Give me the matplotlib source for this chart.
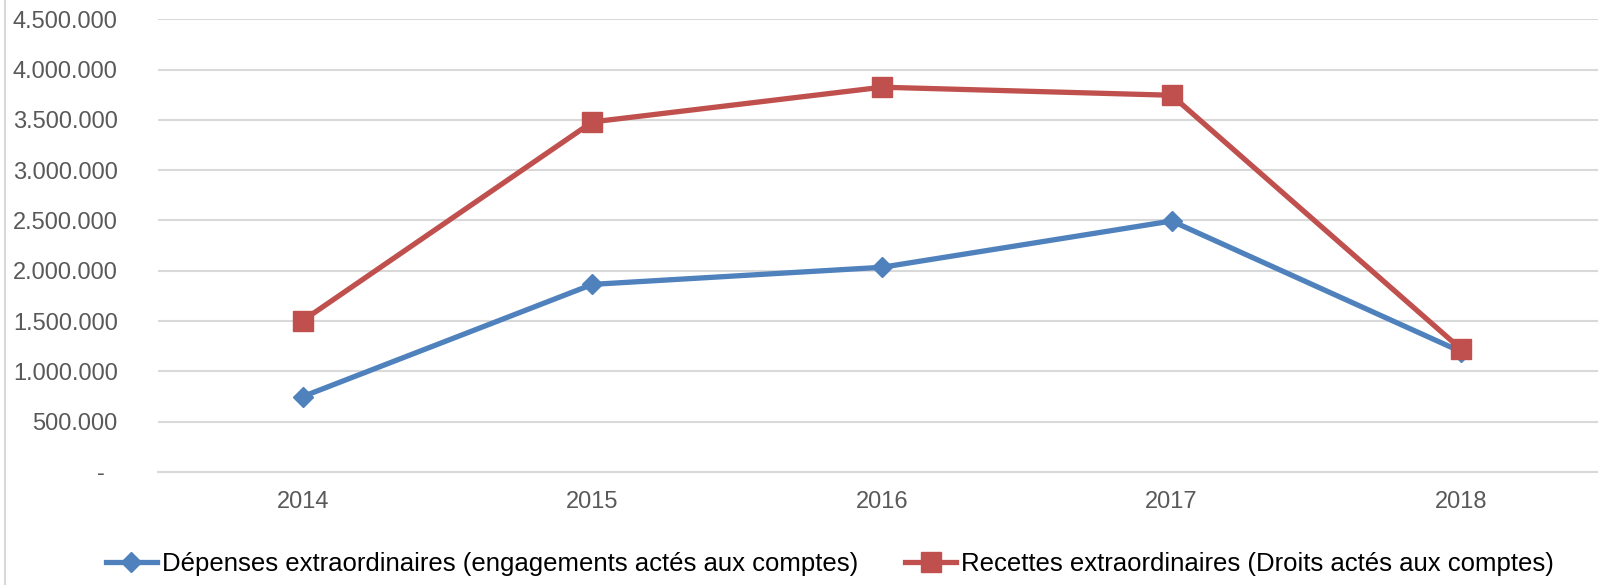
import matplotlib
matplotlib.use("Agg")
import matplotlib.pyplot as plt
from matplotlib.lines import Line2D
from matplotlib.ticker import FuncFormatter, MultipleLocator

years = ["2014", "2015", "2016", "2017", "2018"]
depenses = [750000, 1865000, 2035000, 2495000, 1195000]
recettes = [1505000, 3480000, 3825000, 3745000, 1220000]
label_dep = "Dépenses extraordinaires (engagements actés aux comptes)"
label_rec = "Recettes extraordinaires (Droits actés aux comptes)"

BLUE = "#4F81BD"
RED = "#C0504D"
GRID = "#D9D9D9"
TICK = "#595959"

plt.rcParams["font.family"] = ["Liberation Sans", "DejaVu Sans"]

fig = plt.figure(figsize=(15.98, 5.85), dpi=100)
W, H = 1598, 585
# plot area in pixels: x from 158 to 1606, y from 19 (top) to 472 (zero line)
ax = fig.add_axes([158 / W, 1 - 472 / H, 1448 / W, (472 - 19.3) / H])

x = list(range(len(years)))
ax.plot(x, depenses, color=BLUE, lw=3.8, marker="D", ms=10, zorder=3,
        solid_joinstyle="round")
ax.plot(x, recettes, color=RED, lw=3.8, marker="s", ms=14, zorder=4,
        solid_joinstyle="round")

ax.set_xlim(-0.5, len(years) - 0.5)
ax.set_ylim(0, 4500000)
ax.yaxis.set_major_locator(MultipleLocator(500000))


def fmt(v, pos):
    if abs(v) < 1:
        return "-  "
    return f"{int(round(v)):,}".replace(",", ".")


ax.yaxis.set_major_formatter(FuncFormatter(fmt))
ax.set_xticks(x)
ax.set_xticklabels(years)
ax.tick_params(axis="y", length=0, pad=29, labelsize=17, labelcolor=TICK)
ax.tick_params(axis="x", length=0, pad=14, labelsize=17, labelcolor=TICK)

ax.grid(axis="y", color=GRID, lw=1.5)
ax.set_axisbelow(True)
for s in ["top", "right", "left"]:
    ax.spines[s].set_visible(False)
ax.spines["bottom"].set_color(GRID)
ax.spines["bottom"].set_linewidth(1.5)

# chart frame, only the left edge shows in the crop
fig.add_artist(Line2D([5 / W, 5 / W], [0, 1], color=GRID, lw=1.5))

handles = [
    Line2D([], [], color=BLUE, lw=3.8, marker="D", ms=10),
    Line2D([], [], color=RED, lw=3.8, marker="s", ms=14),
]
fig.legend(handles, [label_dep, label_rec], loc="center",
           bbox_to_anchor=(830 / W, 1 - 564 / H), ncol=2, frameon=False,
           fontsize=18.5, handlelength=1.95, handletextpad=0.2,
           columnspacing=1.85, borderpad=0, borderaxespad=0)

fig.savefig("out.png", dpi=100)
